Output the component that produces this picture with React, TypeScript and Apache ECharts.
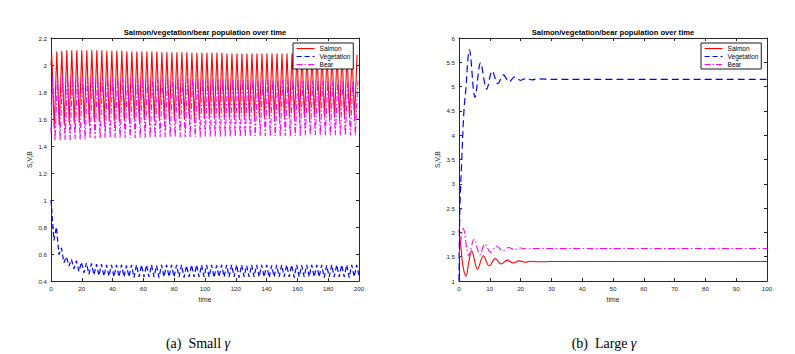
import React, { useEffect, useRef } from "react";
import * as echarts from "echarts";

// ---------- Left panel (small gamma): sustained oscillations ----------
const leftHalfPeriod = 1.625; // time between successive peak and trough
const leftInit = { salmon: 2.0, vegetation: 1.0, bear: 1.5 };
const leftStart = { salmon: 0.5, vegetation: 1.9, bear: 1.0 };

const leftSalmonPeaks = [
  2.08, 2.1, 2.105, 2.11, 2.11, 2.11, 2.11, 2.11, 2.11, 2.11,
  2.11, 2.105, 2.105, 2.105, 2.105, 2.1, 2.1, 2.1, 2.1, 2.1,
  2.1, 2.1, 2.095, 2.095, 2.095, 2.095, 2.095, 2.095, 2.09, 2.09,
  2.09, 2.09, 2.09, 2.09, 2.09, 2.085, 2.085, 2.085, 2.085, 2.085,
  2.085, 2.085, 2.085, 2.085, 2.085, 2.085, 2.085, 2.085, 2.085, 2.085,
  2.085, 2.08, 2.08, 2.08, 2.085, 2.085, 2.085, 2.085, 2.09, 2.08, 2.085, 2.075,
];
const leftSalmonTroughs = [
  1.53, 1.55, 1.56, 1.565, 1.57, 1.57, 1.575, 1.575, 1.58, 1.58,
  1.58, 1.585, 1.585, 1.585, 1.59, 1.59, 1.59, 1.59, 1.59, 1.595,
  1.595, 1.595, 1.595, 1.595, 1.6, 1.6, 1.6, 1.6, 1.6, 1.6,
  1.6, 1.6, 1.605, 1.605, 1.605, 1.605, 1.605, 1.605, 1.61, 1.61,
  1.61, 1.61, 1.61, 1.61, 1.61, 1.61, 1.61, 1.61, 1.61, 1.61,
  1.61, 1.615, 1.615, 1.615, 1.615, 1.61, 1.61, 1.61, 1.61, 1.61, 1.61,
];
const leftBearPeaks = [
  1.92, 1.92, 1.92, 1.915, 1.915, 1.915, 1.91, 1.91, 1.91, 1.91,
  1.905, 1.905, 1.905, 1.905, 1.905, 1.905, 1.905, 1.905, 1.905, 1.905,
  1.9, 1.9, 1.9, 1.9, 1.9, 1.9, 1.9, 1.9, 1.9, 1.9,
  1.895, 1.895, 1.895, 1.895, 1.895, 1.895, 1.895, 1.895, 1.895, 1.895,
  1.89, 1.89, 1.89, 1.89, 1.89, 1.89, 1.89, 1.89, 1.89, 1.89,
  1.885, 1.885, 1.885, 1.885, 1.885, 1.885, 1.88, 1.88, 1.88, 1.88, 1.88, 1.88,
];
const leftBearTroughs = [
  1.44, 1.44, 1.445, 1.445, 1.45, 1.45, 1.45, 1.455, 1.455, 1.455,
  1.46, 1.46, 1.46, 1.46, 1.46, 1.46, 1.46, 1.46, 1.46, 1.46,
  1.46, 1.465, 1.465, 1.465, 1.465, 1.465, 1.465, 1.465, 1.465, 1.465,
  1.47, 1.47, 1.47, 1.47, 1.47, 1.47, 1.47, 1.47, 1.47, 1.47,
  1.475, 1.475, 1.475, 1.475, 1.475, 1.475, 1.475, 1.475, 1.475, 1.475,
  1.48, 1.48, 1.48, 1.48, 1.48, 1.48, 1.48, 1.48, 1.48, 1.48, 1.48,
];
const leftVegTroughs = [
  0.7, 0.595, 0.535, 0.51, 0.49, 0.47, 0.46, 0.45, 0.445, 0.44,
  0.435, 0.435, 0.43, 0.43, 0.43, 0.43, 0.425, 0.43, 0.43, 0.43,
  0.43, 0.425, 0.43, 0.43, 0.43, 0.43, 0.425, 0.43, 0.43, 0.43,
  0.43, 0.43, 0.425, 0.43, 0.43, 0.43, 0.43, 0.425, 0.43, 0.43,
  0.43, 0.43, 0.43, 0.425, 0.43, 0.43, 0.43, 0.43, 0.425, 0.43,
  0.43, 0.43, 0.43, 0.43, 0.425, 0.43, 0.43, 0.43, 0.43, 0.425, 0.43, 0.43,
];
const leftVegPeaks = [
  0.8, 0.645, 0.58, 0.56, 0.55, 0.54, 0.535, 0.53, 0.525, 0.525,
  0.52, 0.52, 0.52, 0.52, 0.515, 0.52, 0.52, 0.52, 0.52, 0.52,
  0.515, 0.52, 0.52, 0.52, 0.52, 0.52, 0.515, 0.52, 0.52, 0.52,
  0.52, 0.52, 0.515, 0.52, 0.52, 0.52, 0.52, 0.52, 0.515, 0.52,
  0.52, 0.52, 0.52, 0.515, 0.52, 0.52, 0.52, 0.52, 0.52, 0.515,
  0.52, 0.52, 0.52, 0.52, 0.515, 0.52, 0.52, 0.52, 0.52, 0.52, 0.52,
];

// ---------- Right panel (large gamma): damped oscillations ----------
const rightSalmonT = [0, 0.6, 1.3, 2.3, 3.2, 4.1, 6.0, 7.9, 9.8, 11.8, 13.7, 15.7, 17.6, 19.5, 21.5, 23.5, 25.5, 30, 100];
const rightSalmonV = [2.05, 1.7, 1.3, 1.1, 1.4, 1.62, 1.24, 1.52, 1.31, 1.46, 1.35, 1.43, 1.37, 1.415, 1.385, 1.405, 1.395, 1.4, 1.4];
const rightVegT = [0, 0.3, 0.9, 1.6, 2.3, 2.8, 3.35, 5.2, 7.0, 9.0, 10.8, 12.6, 14.4, 16.3, 18.1, 20, 21.8, 23.6, 25.5, 30, 100];
const rightVegV = [1.0, 2.5, 3.5, 4.5, 5.0, 5.5, 5.76, 4.78, 5.49, 4.95, 5.32, 5.06, 5.24, 5.1, 5.2, 5.13, 5.17, 5.14, 5.16, 5.15, 5.15];
const rightBearT = [0, 1.4, 3.2, 4.9, 6.8, 8.4, 10.3, 12.2, 14.2, 16.1, 18, 20, 22, 24, 30, 100];
const rightBearV = [1.5, 2.08, 1.52, 1.86, 1.54, 1.76, 1.59, 1.72, 1.62, 1.69, 1.645, 1.68, 1.66, 1.67, 1.67, 1.67];

const seriesNames = ["Salmon", "Vegetation", "Bear"];
const titleText = "Salmon/vegetation/bear population over time";
const yName = "S,V,B";
const xName = "time";

// ---------- builders ----------
function buildOsc(init: number, t0: number, first: number[], second: number[]) {
  const out: [number, number][] = [[0, init]];
  const n = first.length + second.length;
  for (let i = 0; i < n; i++) {
    const v = i % 2 === 0 ? first[i / 2] : second[(i - 1) / 2];
    if (v === undefined) break;
    out.push([t0 + i * leftHalfPeriod, v]);
  }
  return out;
}
function zip(t: number[], v: number[]) {
  return t.map((x, i) => [x, v[i]] as [number, number]);
}

const FONT = "Liberation Sans";
const AXIS = "#262626";
const COLORS = { salmon: "#ff0000", vegetation: "#0000ff", bear: "#ff00ff" };

const G = [
  { left: 51, top: 38, width: 308, height: 243 },
  { left: 459, top: 38, width: 308, height: 243 },
];

function axisPair(gridIndex: number, min: number, max: number, interval: number, isX: boolean) {
  const common = {
    gridIndex,
    type: "value",
    min,
    max,
    interval,
    splitLine: { show: false },
    axisLine: { show: true, onZero: false, lineStyle: { color: AXIS, width: 1 } },
    axisTick: { show: true, inside: true, length: 3, lineStyle: { color: AXIS } },
  };
  const main: any = {
    ...common,
    position: isX ? "bottom" : "left",
    axisLabel: {
      show: true,
      fontSize: 6.2,
      color: AXIS,
      fontFamily: FONT,
      margin: 4,
    },
    name: isX ? xName : yName,
    nameLocation: "middle",
    nameGap: isX ? 13 : 18,
    nameRotate: isX ? 0 : 90,
    nameTextStyle: { fontSize: 6.8, color: AXIS, fontFamily: FONT },
  };
  const mirror: any = {
    ...common,
    position: isX ? "top" : "right",
    axisLabel: { show: false },
  };
  return [main, mirror];
}

function legendFor(left: number) {
  return {
    left,
    top: 43,
    orient: "vertical",
    data: seriesNames,
    selectedMode: false,
    itemWidth: 18,
    itemHeight: 7,
    itemGap: 1,
    padding: [2, 3, 1, 3],
    borderColor: "#1a1a1a",
    borderWidth: 1,
    backgroundColor: "#ffffff",
    itemStyle: { opacity: 0 },
    lineStyle: { width: 1.1 },
    textStyle: { fontSize: 6.5, color: "#000", fontFamily: FONT },
  };
}

export default function App() {
  const ref = useRef<HTMLDivElement>(null);
  useEffect(() => {
    const chart = echarts.init(ref.current!, null, { renderer: "svg" });
    const [lx, lx2] = axisPair(0, 0, 200, 20, true);
    const [rx, rx2] = axisPair(1, 0, 100, 10, true);
    const [ly, ly2] = axisPair(0, 0.4, 2.2, 0.2, false);
    const [ry, ry2] = axisPair(1, 1, 6, 0.5, false);
    ly.axisLabel.formatter = (v: number) => String(Math.round(v * 10) / 10);

    const lineBase = { type: "line", symbol: "none", showSymbol: false, z: 3 };
    const option: any = {
      animation: false,
      backgroundColor: "#ffffff",
      textStyle: { fontFamily: FONT },
      grid: G,
      xAxis: [lx, lx2, rx, rx2],
      yAxis: [ly, ly2, ry, ry2],
      legend: [legendFor(293), legendFor(701)],
      series: [
        {
          ...lineBase,
          name: "Salmon",
          xAxisIndex: 0,
          yAxisIndex: 0,
          data: buildOsc(leftInit.salmon, leftStart.salmon, leftSalmonPeaks, leftSalmonTroughs),
          lineStyle: { color: COLORS.salmon, width: 1.1, type: "solid" },
          itemStyle: { color: COLORS.salmon },
        },
        {
          ...lineBase,
          name: "Vegetation",
          xAxisIndex: 0,
          yAxisIndex: 0,
          data: buildOsc(leftInit.vegetation, leftStart.vegetation, leftVegTroughs, leftVegPeaks),
          lineStyle: { color: COLORS.vegetation, width: 1.2, type: [5, 3] },
          itemStyle: { color: COLORS.vegetation },
        },
        {
          ...lineBase,
          name: "Bear",
          xAxisIndex: 0,
          yAxisIndex: 0,
          data: buildOsc(leftInit.bear, leftStart.bear, leftBearPeaks, leftBearTroughs),
          lineStyle: { color: COLORS.bear, width: 1.1, type: [6, 2, 1.5, 2] },
          itemStyle: { color: COLORS.bear },
        },
        {
          ...lineBase,
          name: "Salmon",
          xAxisIndex: 2,
          yAxisIndex: 2,
          smooth: 0.35,
          data: zip(rightSalmonT, rightSalmonV),
          lineStyle: { color: COLORS.salmon, width: 1.1, type: "solid" },
          itemStyle: { color: COLORS.salmon },
        },
        {
          ...lineBase,
          name: "Vegetation",
          xAxisIndex: 2,
          yAxisIndex: 2,
          smooth: 0.35,
          data: zip(rightVegT, rightVegV),
          lineStyle: { color: COLORS.vegetation, width: 1.2, type: [7, 4] },
          itemStyle: { color: COLORS.vegetation },
        },
        {
          ...lineBase,
          name: "Bear",
          xAxisIndex: 2,
          yAxisIndex: 2,
          smooth: 0.35,
          data: zip(rightBearT, rightBearV),
          lineStyle: { color: COLORS.bear, width: 1.1, type: [7, 2.5, 1.5, 2.5] },
          itemStyle: { color: COLORS.bear },
        },
      ],
      graphic: [
        {
          type: "text",
          x: 205,
          y: 32,
          style: {
            text: titleText,
            textAlign: "center",
            textVerticalAlign: "middle",
            font: `bold 7.6px "${FONT}"`,
            fill: "#000",
          },
        },
        {
          type: "text",
          x: 613,
          y: 32,
          style: {
            text: titleText,
            textAlign: "center",
            textVerticalAlign: "middle",
            font: `bold 7.6px "${FONT}"`,
            fill: "#000",
          },
        },
        {
          type: "text",
          x: 198,
          y: 343,
          style: {
            text: "(a)  Small {g|γ}",
            textAlign: "center",
            textVerticalAlign: "middle",
            font: `14px "Liberation Serif"`,
            fill: "#000",
            rich: { g: { fontStyle: "italic", fontFamily: "Liberation Serif", fontSize: 14 } },
          },
        },
        {
          type: "text",
          x: 604,
          y: 343,
          style: {
            text: "(b)  Large {g|γ}",
            textAlign: "center",
            textVerticalAlign: "middle",
            font: `14px "Liberation Serif"`,
            fill: "#000",
            rich: { g: { fontStyle: "italic", fontFamily: "Liberation Serif", fontSize: 14 } },
          },
        },
      ],
    };
    chart.setOption(option);
    return () => chart.dispose();
  }, []);
  return (
    <div
      ref={ref}
      style={{ position: "fixed", left: 0, top: 0, width: 795, height: 354 }}
    />
  );
}
